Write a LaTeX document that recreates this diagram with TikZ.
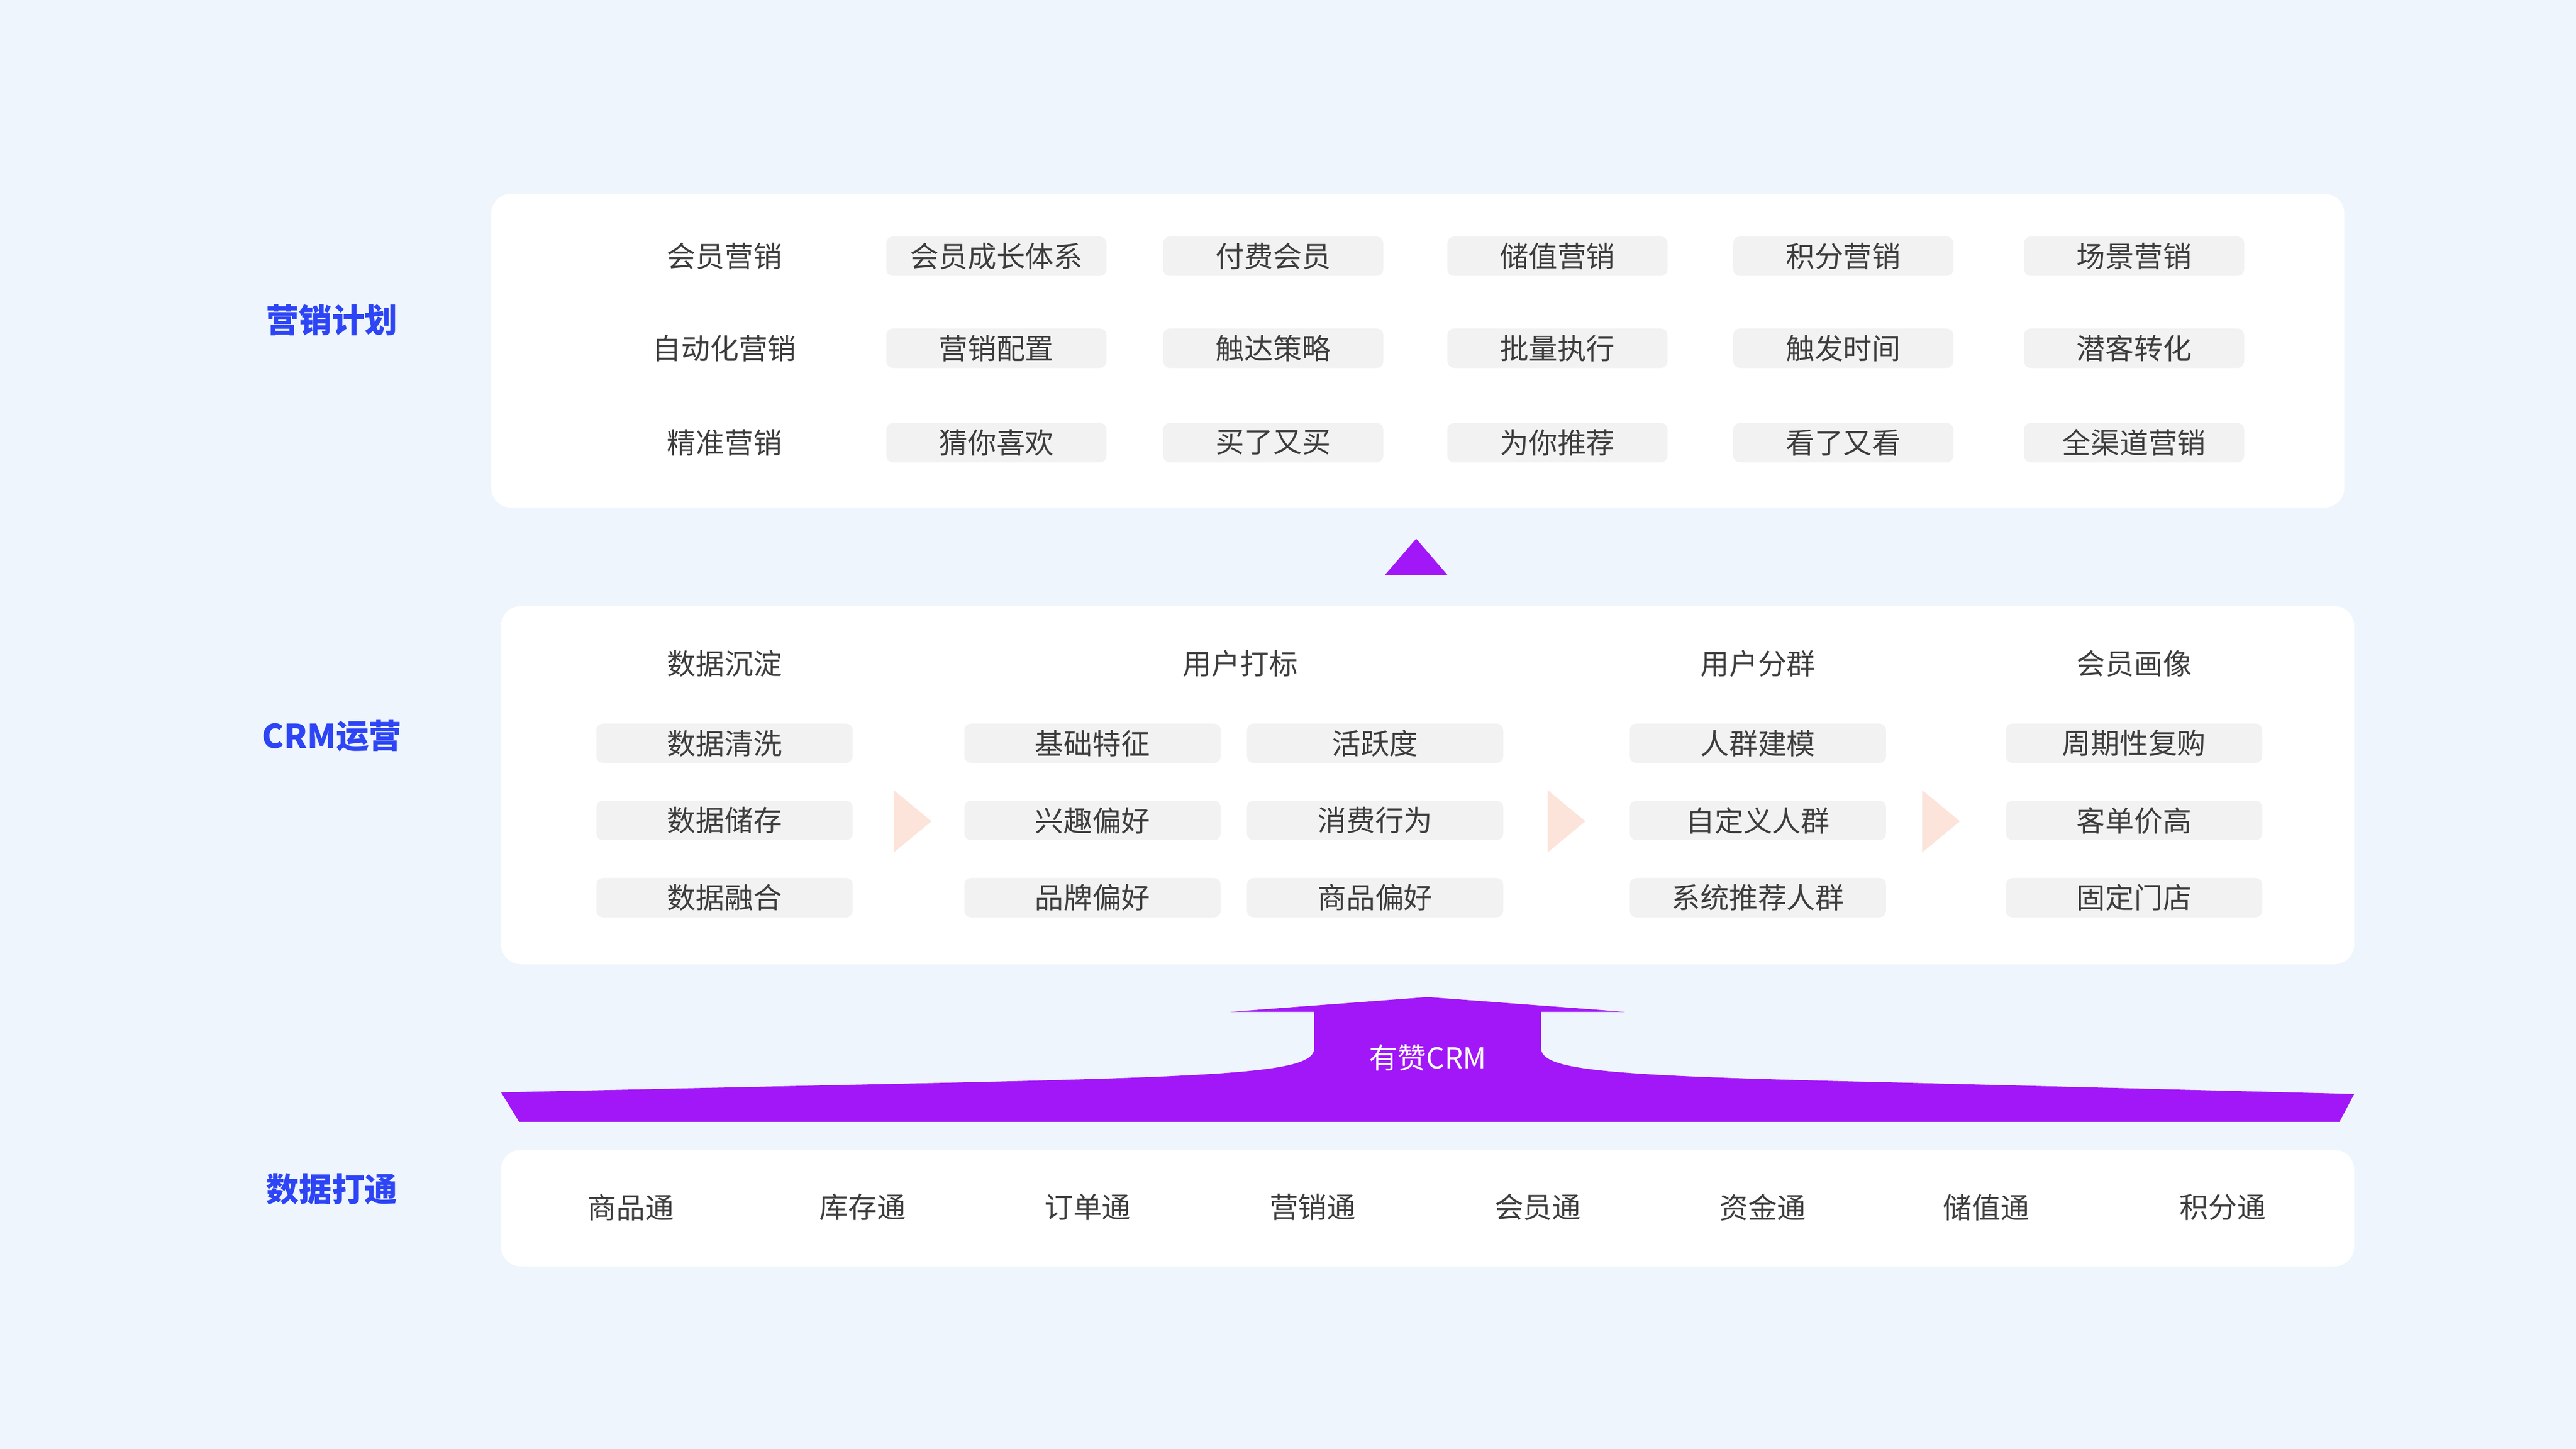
\documentclass[tikz,border=0pt]{standalone}
\usepackage{fontspec}
\setmainfont{Noto Sans CJK SC}
\usetikzlibrary{positioning}
\definecolor{bgblue}{HTML}{EEF5FD}
\definecolor{titleblue}{HTML}{2D45F5}
\definecolor{txtgray}{HTML}{3D3D3D}
\definecolor{cellgray}{HTML}{F2F2F2}
\definecolor{crmpurple}{HTML}{A117F7}
\definecolor{chevron}{HTML}{FDE4DA}
\newcommand{\txtsize}{\fontsize{17.5}{20}\selectfont}
\tikzset{
 panel/.style={fill=white, rounded corners=12pt, inner sep=0pt},
 cell/.style={fill=cellgray, rounded corners=4pt, minimum height=24pt, inner sep=0pt, text=txtgray, font=\txtsize},
 plain/.style={text=txtgray, inner sep=0pt, font=\txtsize},
 layer/.style={text=titleblue, inner sep=0pt, font=\bfseries\fontsize{20}{24}\selectfont}
}
\newcommand{\chev}[1]{\fill[chevron] (#1,481) -- (#1+23,500) -- (#1,519) -- cycle;}

\begin{document}
\begin{tikzpicture}[x=1pt,y=-1pt]
\fill[bgblue] (0,0) rectangle (1568,882);
\useasboundingbox (0,0) rectangle (1568,882);
% layer titles
\node[layer] (lplan) at (202,195) {营销计划};
\node[layer] (lcrm) at (202,448) {CRM运营};
\node[layer] (ldata) at (202,724) {数据打通};
% marketing plan
\node[panel, minimum width=1128pt, minimum height=191pt] (plan) at (863,213.5) {};
\node[plain] (p0a) at (441,156) {会员营销};
\node[plain] (p0b) at (441,212) {自动化营销};
\node[plain] (p0c) at (441,269.5) {精准营销};
\foreach \x/\a/\b/\c [count=\i] in {606.5/会员成长体系/营销配置/猜你喜欢, 775/付费会员/触达策略/买了又买, 948/储值营销/批量执行/为你推荐, 1122/积分营销/触发时间/看了又看, 1299/场景营销/潜客转化/全渠道营销} {
 \node[cell, minimum width=134pt] (p\i a) at (\x,156) {\a};
 \node[cell, minimum width=134pt] (p\i b) at (\x,212) {\b};
 \node[cell, minimum width=134pt] (p\i c) at (\x,269.5) {\c};
 }
\fill[crmpurple] (843,350) -- (862,328) -- (881,350) -- cycle;
% crm operation
\node[panel, minimum width=1128pt, minimum height=218pt] (crm) at (869,478) {};
\foreach \x/\h in {441/数据沉淀, 755/用户打标, 1070/用户分群, 1299/会员画像}
 \node[plain] (h\x) at (\x,404) {\h};
\foreach \x/\a/\b/\c [count=\i] in {441/数据清洗/数据储存/数据融合, 665/基础特征/兴趣偏好/品牌偏好, 837/活跃度/消费行为/商品偏好, 1070/人群建模/自定义人群/系统推荐人群, 1299/周期性复购/客单价高/固定门店} {
 \node[cell, minimum width=156pt] (c\i a) at (\x,452.5) {\a};
 \node[cell, minimum width=156pt] (c\i b) at (\x,499.5) {\b};
 \node[cell, minimum width=156pt] (c\i c) at (\x,546.5) {\c};
 }
\chev{544} \chev{942} \chev{1170}
% youzan crm arrow
\fill[crmpurple] (305,665) -- (584,659) .. controls (760,655) and (800,652) .. (800,638) -- (800,616) -- (749,616) -- (869,607) -- (989,616) -- (938,616) -- (938,638) .. controls (938,652) and (978,655) .. (1154,659) -- (1433,666) -- (1424,683) -- (316,683) -- cycle;
\node[text=white, inner sep=0pt, font=\txtsize] (yz) at (869,644) {有赞CRM};
% data
\node[panel, minimum width=1128pt, minimum height=71pt] (data) at (869,735.5) {};
\foreach \x/\t [count=\i] in {384/商品通, 525/库存通, 662/订单通, 799/营销通, 936/会员通, 1073/资金通, 1209/储值通, 1353/积分通}
 \node[plain] (d\i) at (\x,735) {\t};

\end{tikzpicture}
\end{document}
